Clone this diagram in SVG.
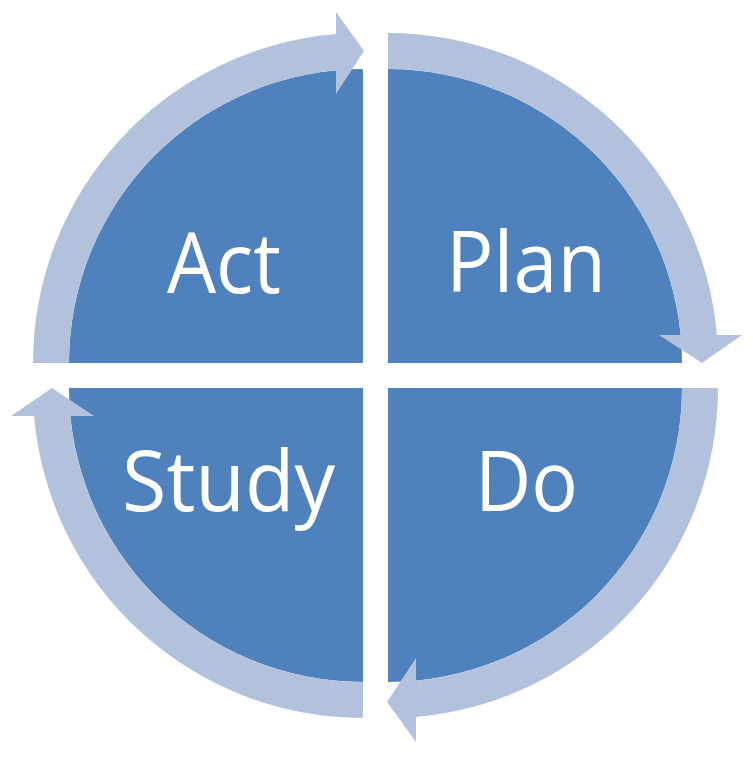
<svg xmlns="http://www.w3.org/2000/svg" width="753" height="758" viewBox="0 0 753 758">
  <style>
    .quad { fill: #4F81BD; }
    .band { fill: #B2C2DC; }
    .lbl { fill: #FFFFFF; font-family: "Open Sans", "Noto Sans", "Liberation Sans", sans-serif; font-size: 84px; text-anchor: middle; }
  </style>
  <rect x="0" y="0" width="753" height="758" fill="#FFFFFF"/>
  <g id="act">
    <path class="quad" d="M 363,363 L 69,363 A 294 294 0 0 1 363,69 Z"/>
    <text class="lbl" x="224" y="293" textLength="114" lengthAdjust="spacingAndGlyphs">Act</text>
  </g>
  <g id="plan">
    <path class="quad" d="M 388,363 L 388,69 A 294 294 0 0 1 682,363 Z"/>
    <text class="lbl" x="526" y="292" textLength="160" lengthAdjust="spacingAndGlyphs">Plan</text>
  </g>
  <g id="do">
    <path class="quad" d="M 388,388 L 682,388 A 294 294 0 0 1 388,682 Z"/>
    <text class="lbl" x="526.5" y="511" textLength="103" lengthAdjust="spacingAndGlyphs">Do</text>
  </g>
  <g id="study">
    <path class="quad" d="M 363,388 L 363,682 A 294 294 0 0 1 69,388 Z"/>
    <text class="lbl" x="228.5" y="511" textLength="213" lengthAdjust="spacingAndGlyphs">Study</text>
  </g>
  <g id="connectors">
    <path class="band" d="M 33,363 A 330 330 0 0 1 336,34.1 L 336,12 L 364,51 L 336,94 L 336,70.2 A 294 294 0 0 0 69,363 Z"/>
    <path class="band" d="M 388,33 A 330 330 0 0 1 716.9,335 L 742,335 L 702,363 L 659,335 L 680.8,335 A 294 294 0 0 0 388,69 Z"/>
    <path class="band" d="M 718,388 A 330 330 0 0 1 416,716.9 L 416,742 L 387,702 L 416,658 L 416,680.8 A 294 294 0 0 0 682,388 Z"/>
    <path class="band" d="M 363,718 A 330 330 0 0 1 34.1,416 L 11,416 L 52,388 L 94,416 L 70.2,416 A 294 294 0 0 0 363,682 Z"/>
  </g>
</svg>
